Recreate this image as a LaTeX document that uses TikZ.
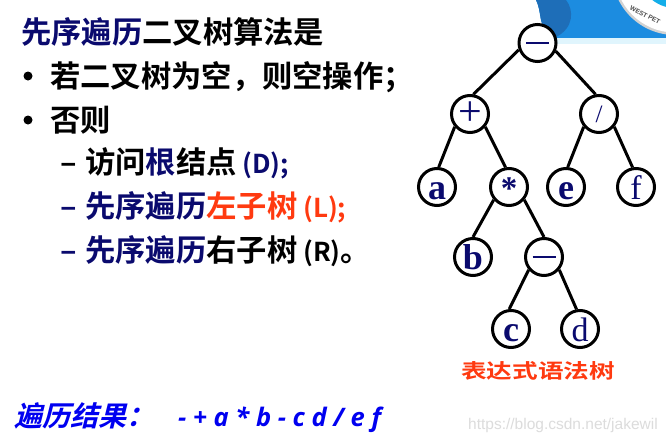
\documentclass[tikz,border=0pt]{standalone}
\usepackage{fontspec}
\setmainfont{Liberation Sans}
\newfontfamily\cjk{Noto Sans CJK SC}[BoldFont={* Bold}]
\newfontfamily\cjkb{Noto Sans CJK SC Bold}
\newfontfamily\serifb{Liberation Serif}
\newfontfamily\opensans{Open Sans}
\definecolor{navy}{HTML}{0A0A6E}
\definecolor{redo}{HTML}{FF3A10}
\definecolor{pureblue}{HTML}{0000F0}
\definecolor{logoblue}{HTML}{1C8CE0}
\definecolor{logodark}{HTML}{1E6EB8}
\definecolor{wm}{HTML}{DCDCDC}
\tikzset{
  x=1pt,y=-1pt,
  treenode/.style={circle,draw=black,line width=3pt,fill=white,minimum size=37pt,inner sep=0pt,text=navy,font=\serifb\fontsize{36}{36}\selectfont\bfseries},
  thinnode/.style={treenode,font=\serifb\fontsize{34}{34}\selectfont},
  treeedge/.style={line width=3pt,draw=black},
  txt/.style={anchor=base west,inner sep=0pt,font=\cjk\bfseries\fontsize{30.3}{31}\selectfont,text=black},
  bulletdot/.style={circle,fill=black,minimum size=9pt,inner sep=0pt},
}
\newcommand{\nv}[1]{\textcolor{navy}{#1}}
\newcommand{\rd}[1]{\textcolor{redo}{#1}}
\newcommand{\lat}[1]{{\fontsize{26}{26}\selectfont #1}}
\newcommand{\letter}[1]{\raisebox{-12.5pt}[0pt][0pt]{#1}}
\begin{document}
\begin{tikzpicture}
\useasboundingbox (0,0) rectangle (666,444);
\fill[white] (0,0) rectangle (666,444);
% logo
\begin{scope}
\clip (0,0) rectangle (666,444);
\fill[logoblue] (536,0) .. controls (542,12) and (538,24) .. (548,32) -- (556,38) -- (666,38) -- (666,0) -- cycle;
\fill[logodark] (536,0) .. controls (542,12) and (538,24) .. (548,32) -- (556,37) .. controls (574,28) and (574,10) .. (566,0) -- cycle;
\fill[cyan!12] (556,38) rectangle (666,44);
\fill[gray!35] (675,-28) circle (63);
\fill[white] (675,-28) circle (60.5);
\fill[logoblue!70!cyan] (675,-28) circle (36);
\end{scope}
\node[anchor=base,inner sep=0pt,font=\fontsize{6.5}{7}\selectfont\bfseries,text=black!70,rotate=-28] (seal) at (644,17) {WEST PET};
% tree
\node[thinnode] (n1) at (537.5,43) {};
\node[thinnode,font=\serifb\fontsize{42}{42}\selectfont] (n2) at (470,114) {+};
\node[thinnode,font=\serifb\fontsize{25}{25}\selectfont] (n3) at (599,114) {/};
\node[treenode] (n4) at (437,187) {\letter{a}};
\node[treenode,font=\serifb\fontsize{33}{33}\selectfont\bfseries] (n5) at (509,187) {\letter{*}};
\node[treenode] (n6) at (566,187) {\letter{e}};
\node[thinnode] (n7) at (636,187) {\letter{f}};
\node[treenode] (n8) at (473,257) {\letter{b}};
\node[thinnode] (n9) at (544,257) {};
\node[treenode] (n10) at (511,329) {\letter{c}};
\node[thinnode] (n11) at (580,329) {\letter{d}};
\draw[navy,line width=1.4pt] (526,43) -- (549,43);
\draw[navy,line width=1.2pt] (532.5,257) -- (555.5,257);
\draw[treeedge] (n1.200) -- (n2.80);
\draw[treeedge] (n1.-24) -- (n3.100);
\draw[treeedge] (n2.220) -- (n4.85);
\draw[treeedge] (n2.-40) -- (n5.100);
\draw[treeedge] (n3.220) -- (n6.85);
\draw[treeedge] (n3.-40) -- (n7.100);
\draw[treeedge] (n5.220) -- (n8.90);
\draw[treeedge] (n5.-40) -- (n9.90);
\draw[treeedge] (n9.220) -- (n10.95);
\draw[treeedge] (n9.-40) -- (n11.100);
\node[anchor=base,inner sep=0pt,font=\cjkb\fontsize{20}{20}\selectfont,text=redo,xscale=1.28] (cap) at (538,378) {表达式语法树};
% left text
\node[txt] (t1) at (21,44) {\nv{先序遍历}二叉树算法是};
\node[bulletdot] (b1) at (28,76) {};
\node[txt] (t2) at (50,87) {若二叉树为空，则空操作；};
\node[bulletdot] (b2) at (28,120) {};
\node[txt] (t3) at (50,131) {否则};
\node[txt] (d1) at (60,173) {–};
\node[txt] (t4) at (85,173) {访问\nv{根}结点\nv{\lat{ (D);}}};
\node[txt,text=navy] (d2) at (60,217) {–};
\node[txt] (t5) at (85,217) {\nv{先序遍历}\rd{左子树\lat{ (L);}}};
\node[txt,text=navy] (d3) at (60,261) {–};
\node[txt] (t6) at (85,261) {\nv{先序遍历}右子树\lat{ (R)}。};
% result
\node[anchor=base west,inner sep=0pt,text=pureblue,font=\cjkb\fontsize{28}{28}\selectfont,xslant=0.25] (r1) at (14,426) {遍历结果：};
\node[anchor=base west,inner sep=0pt,text=pureblue,font=\opensans\bfseries\itshape\fontsize{25.5}{26}\selectfont] (r2) at (178,426) {- + a * b - c d / e f};
\node[anchor=base west,inner sep=0pt,text=wm,font=\fontsize{15.5}{16}\selectfont] (w) at (468,429) {https://blog.csdn.net/jakewil};
\end{tikzpicture}
\end{document}
